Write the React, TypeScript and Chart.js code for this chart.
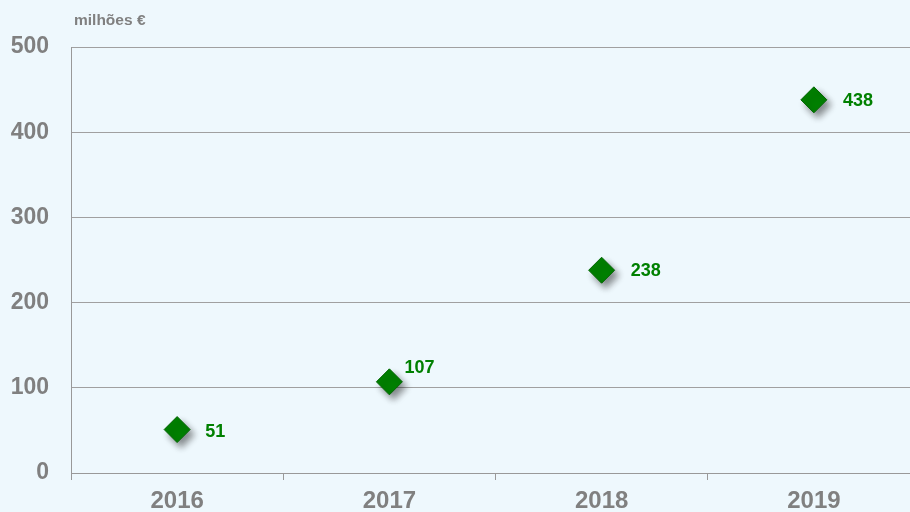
import React, { useEffect, useRef } from "react";
import { Chart, registerables } from "chart.js";

Chart.register(...registerables);

const categories = ["2016", "2017", "2018", "2019"];
const values = [51, 107, 238, 438];
const labelOffsets: [number, number][] = [[28, 1], [15, -15], [29, 0], [29, 0]];
const yTicks = [0, 100, 200, 300, 400, 500];
const unitLabel = "milhões €";

const FONT = "'Liberation Sans', Arial, sans-serif";

export default function App() {
  const ref = useRef<HTMLCanvasElement | null>(null);
  useEffect(() => {
    const canvas = ref.current!;
    const shadowPlugin = {
      id: "shadow",
      beforeDatasetsDraw(chart: any) {
        const ctx = chart.ctx;
        ctx.save();
        ctx.shadowColor = "rgba(0,0,0,0.45)";
        ctx.shadowBlur = 7;
        ctx.shadowOffsetX = 4;
        ctx.shadowOffsetY = 5;
      },
      afterDatasetsDraw(chart: any) {
        chart.ctx.restore();
      },
    };
    const labelPlugin = {
      id: "labels",
      afterDraw(chart: any) {
        const ctx = chart.ctx;
        ctx.save();
        ctx.font = `bold 18px ${FONT}`;
        ctx.fillStyle = "#008000";
        ctx.textAlign = "left";
        ctx.textBaseline = "middle";
        const meta = chart.getDatasetMeta(0);
        meta.data.forEach((pt: any, i: number) => {
          const [dx, dy] = labelOffsets[i];
          ctx.fillText(String(values[i]), pt.x + dx, pt.y + dy + 1);
        });
        ctx.font = `bold 15.5px ${FONT}`;
        ctx.fillStyle = "#808080";
        ctx.fillText(unitLabel, 74, 21);
        ctx.restore();
      },
    };
    const chart = new Chart(canvas, {
      type: "line",
      data: {
        labels: categories,
        datasets: [
          {
            data: values,
            showLine: false,
            pointStyle: "rectRot",
            pointRadius: 13,
            pointHoverRadius: 13,
            backgroundColor: "#008000",
            borderColor: "#006400",
            borderWidth: 1,
          },
        ],
      },
      options: {
        animation: false,
        responsive: false,
        events: [],
        layout: { padding: { top: 47, right: 0, left: 0, bottom: 0 } },
        plugins: { legend: { display: false }, tooltip: { enabled: false } },
        scales: {
          x: {
            offset: true,
            grid: {
              offset: true,
              drawOnChartArea: false,
              drawTicks: true,
              tickLength: 7,
              color: "#999999",
            },
            border: { color: "#999999", width: 1 },
            ticks: {
              font: { family: FONT, size: 24, weight: "bold" },
              color: "#808080",
              padding: 7,
              maxRotation: 0,
            },
            afterFit(scale: any) {
              scale.height = 39;
            },
          },
          y: {
            min: 0,
            max: 500,
            afterBuildTicks(scale: any) {
              scale.ticks = yTicks.map((v) => ({ value: v }));
            },
            grid: { color: "#a0a0a0", drawTicks: false, lineWidth: 1 },
            border: { color: "#999999", width: 1 },
            ticks: {
              font: { family: FONT, size: 23, weight: "bold" },
              color: "#808080",
              padding: 22,
            },
            afterFit(scale: any) {
              scale.width = 71;
            },
          },
        },
      },
      plugins: [shadowPlugin, labelPlugin],
    });
    return () => chart.destroy();
  }, []);
  return (
    <div
      style={{
        position: "fixed",
        left: 0,
        top: 0,
        width: 910,
        height: 512,
        overflow: "hidden",
        background: "#eef8fd",
      }}
    >
      <canvas
        ref={ref}
        width={934}
        height={512}
        style={{ display: "block", width: 934, height: 512 }}
      />
    </div>
  );
}
